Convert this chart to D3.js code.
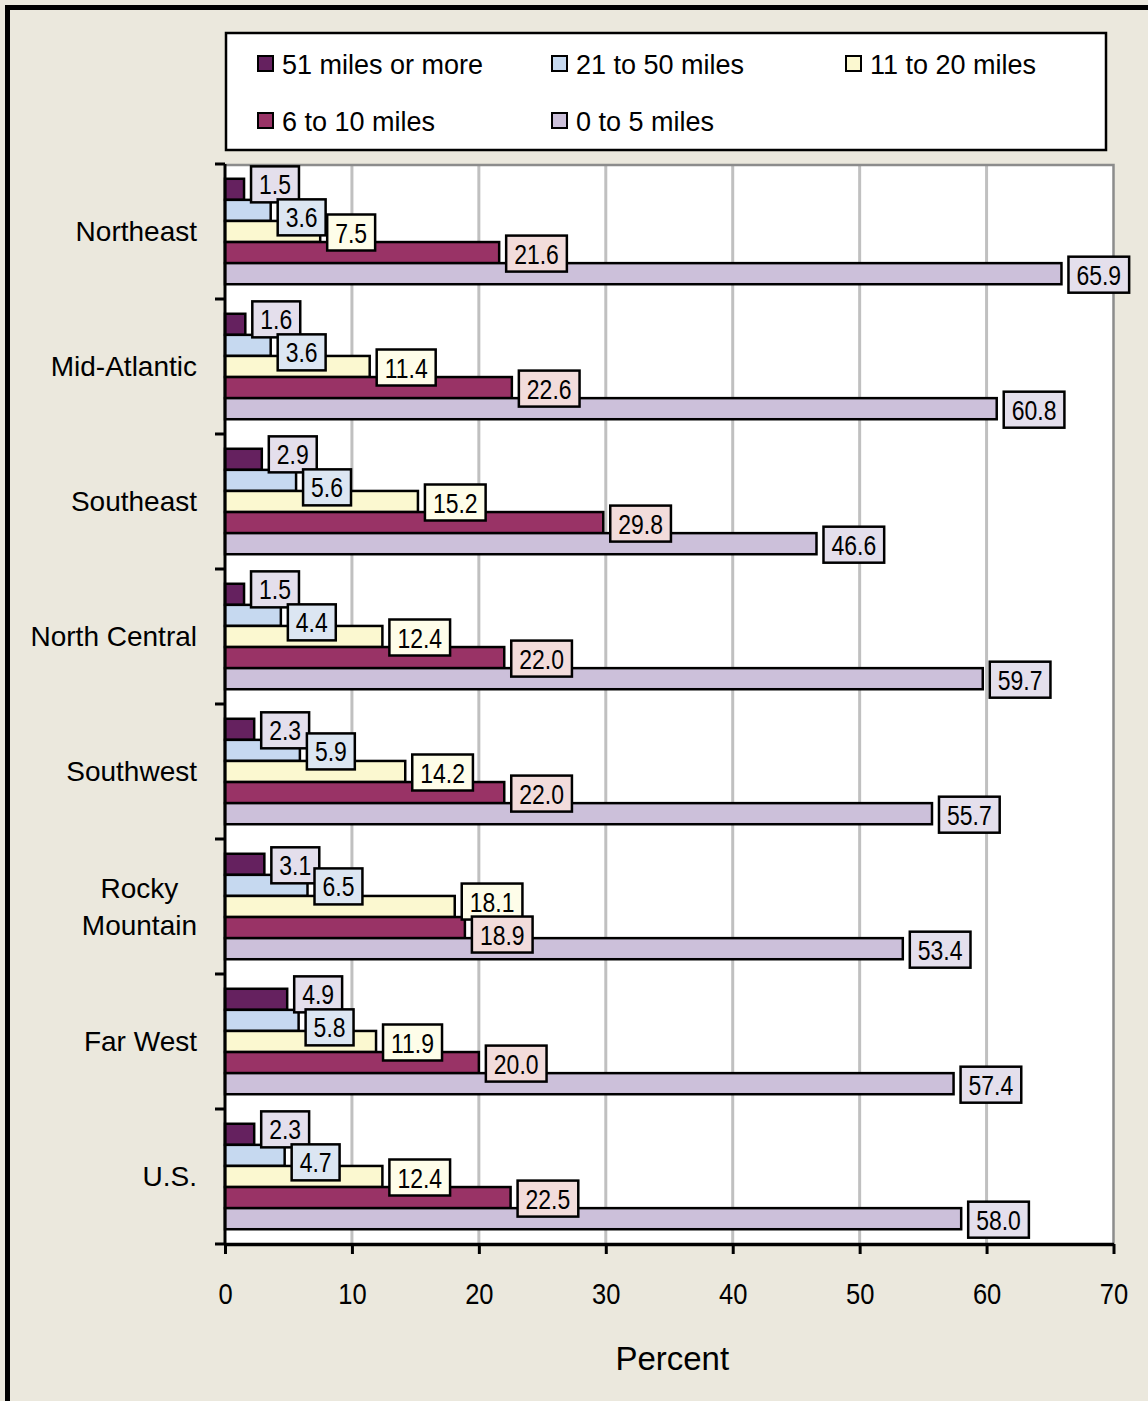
<!DOCTYPE html>
<html>
<head>
<meta charset="utf-8">
<script src="https://cdn.jsdelivr.net/npm/d3@7"></script>
<style>
  body { margin: 0; background: #ebe8dd; }
  svg { display: block; }
  .cat { font-family: "Liberation Sans", Arial, sans-serif; font-size: 28px; fill: #000; }
  .tick text { font-family: "Liberation Sans", Arial, sans-serif; font-size: 29px; fill: #000; }
  .lbl { font-family: "Liberation Sans", Arial, sans-serif; font-size: 28px; fill: #000; }
  .leg { font-family: "Liberation Sans", Arial, sans-serif; font-size: 27px; fill: #000; }
</style>
</head>
<body>
<svg id="chart" width="1148" height="1401"></svg>
<script>
// regions, top to bottom
let categories = ["Northeast", "Mid-Atlantic", "Southeast", "North Central", "Southwest", "Rocky Mountain", "Far West", "U.S."];

let seriesNames = ["51 miles or more", "21 to 50 miles", "11 to 20 miles", "6 to 10 miles", "0 to 5 miles"];

// percent of trips, one value per region
let miles51plus = [1.5, 1.6, 2.9, 1.5, 2.3, 3.1, 4.9, 2.3];
let miles21to50 = [3.6, 3.6, 5.6, 4.4, 5.9, 6.5, 5.8, 4.7];
let miles11to20 = [7.5, 11.4, 15.2, 12.4, 14.2, 18.1, 11.9, 12.4];
let miles6to10 = [21.6, 22.6, 29.8, 22.0, 22.0, 18.9, 20.0, 22.5];
let miles0to5 = [65.9, 60.8, 46.6, 59.7, 55.7, 53.4, 57.4, 58.0];

let xTicks = [0, 10, 20, 30, 40, 50, 60, 70];

let seriesValues = [miles51plus, miles21to50, miles11to20, miles6to10, miles0to5];
let barColors = ["#65215f", "#c6d9f0", "#fbf8d0", "#993366", "#ccc0da"];
let labelColors = ["#e4dfec", "#dce6f2", "#fefde9", "#f2dcdb", "#e4dfec"];

let narrow = 0.82; // squeeze for the condensed label face

let margin = {top: 164, right: 34, bottom: 157, left: 225},
    width = 1148 - margin.left - margin.right,
    height = 1401 - margin.top - margin.bottom;

let root = d3.select("#chart");

// outer frame (only left and top show in the crop)
root.append("path")
  .attr("d", "M7.5,1401 V7.5 H1148")
  .attr("fill", "none")
  .attr("stroke", "#000")
  .attr("stroke-width", 5);

let svg = root.append("g")
  .attr("transform", "translate(" + margin.left + "," + margin.top + ")");

let x = d3.scaleLinear()
  .domain([0, 70])
  .range([0, width - 0.5]);

let y = d3.scaleBand()
  .domain(categories)
  .range([0, height]);

let ySub = d3.scaleBand()
  .domain(seriesNames)
  .range([0, y.bandwidth()])
  .paddingOuter(0.7);

// plot area
svg.append("rect")
  .attr("width", x(70))
  .attr("height", height)
  .attr("fill", "#fff");

svg.selectAll(".grid")
  .data(xTicks.slice(1, -1))
  .enter().append("line")
    .attr("class", "grid")
    .attr("x1", d => x(d)).attr("x2", d => x(d))
    .attr("y1", 0).attr("y2", height)
    .attr("stroke", "#c0c0c0")
    .attr("stroke-width", 3);

svg.append("path")
  .attr("d", "M0,1 H" + x(70) + " V" + height)
  .attr("fill", "none")
  .attr("stroke", "#8c8c8c")
  .attr("stroke-width", 2.5);

// bars
let rows = [];
categories.forEach(function(c, i) {
  seriesNames.forEach(function(s, j) {
    rows.push({cat: c, series: s, idx: j, value: seriesValues[j][i]});
  });
});

svg.selectAll(".bar")
  .data(rows)
  .enter().append("rect")
    .attr("class", "bar")
    .attr("x", 0)
    .attr("y", d => y(d.cat) + ySub(d.series))
    .attr("width", d => x(d.value))
    .attr("height", ySub.bandwidth())
    .attr("fill", d => barColors[d.idx])
    .attr("stroke", "#000")
    .attr("stroke-width", 2.5);

// axes
let xAxis = svg.append("g")
  .attr("transform", "translate(0," + height + ")")
  .call(d3.axisBottom(x).tickValues(xTicks).tickSize(10).tickPadding(29).tickSizeOuter(0));
xAxis.select(".domain").attr("stroke-width", 3.5);
xAxis.selectAll(".tick line").attr("stroke-width", 3);
xAxis.selectAll(".tick text").attr("transform", "scale(0.88,1)");

let yEdges = categories.map(c => y(c)).concat([height]);
svg.append("line")
  .attr("x1", 0).attr("x2", 0)
  .attr("y1", 0).attr("y2", height)
  .attr("stroke", "#000").attr("stroke-width", 3);
svg.selectAll(".ytick")
  .data(yEdges)
  .enter().append("line")
    .attr("class", "ytick")
    .attr("x1", -10).attr("x2", 0)
    .attr("y1", d => d).attr("y2", d => d)
    .attr("stroke", "#000").attr("stroke-width", 3);

// category labels
let wrapped = {"Rocky Mountain": ["Rocky", "Mountain"]};
categories.forEach(function(c) {
  let cy = y(c) + y.bandwidth() / 2;
  let lines = wrapped[c] || [c];
  if (lines.length == 1) {
    svg.append("text").attr("class", "cat")
      .attr("x", -28).attr("y", cy).attr("dy", "0.35em")
      .attr("text-anchor", "end")
      .text(c);
  } else {
    let t = svg.append("text").attr("class", "cat").attr("text-anchor", "middle");
    lines.forEach(function(l, k) {
      t.append("tspan").attr("y", cy + (k - (lines.length - 1) / 2) * 37).attr("dy", "0.35em").text(l);
    });
    let w = d3.max(t.selectAll("tspan").nodes(), n => n.getComputedTextLength());
    t.selectAll("tspan").attr("x", -28 - w / 2);
  }
});

// data labels: measure first, then nudge neighbours apart where a box covers the next text
let measure = svg.append("text").attr("class", "lbl");
rows.forEach(function(d) {
  measure.text(d.value.toFixed(1));
  d.tw = measure.node().getComputedTextLength() * narrow;
  d.bx = x(d.value) + 7;
  d.cy = y(d.cat) + ySub(d.series) + ySub.bandwidth() / 2 + 1;
});
measure.remove();

function hits(a, b) {
  // a's box against b's text, horizontally
  return Math.min(a.bx + a.tw + 16, b.bx + 8 + b.tw) - Math.max(a.bx, b.bx + 8) > 0;
}

categories.forEach(function(c) {
  let grp = rows.filter(d => d.cat == c);
  for (let k = 0; k < grp.length - 1; k++) {
    let a = grp[k], b = grp[k + 1];
    let gap = b.cy - a.cy;
    if ((hits(a, b) || hits(b, a)) && gap < 33) {
      let push = (33 - gap) / 2;
      a.cy -= push;
      b.cy += push;
    }
  }
});

let lbl = svg.selectAll(".lblg")
  .data(rows)
  .enter().append("g")
    .attr("class", "lblg")
    .attr("transform", d => "translate(" + d.bx + "," + d.cy + ")");

lbl.append("rect")
  .attr("x", 0).attr("y", -18)
  .attr("width", d => d.tw + 16).attr("height", 36)
  .attr("fill", d => labelColors[d.idx])
  .attr("stroke", "#000").attr("stroke-width", 2.5);

lbl.append("text").attr("class", "lbl")
  .attr("transform", "translate(8,0) scale(" + narrow + ",1)")
  .attr("dy", "0.36em")
  .text(d => d.value.toFixed(1));

// x title
svg.append("text").attr("class", "cat")
  .attr("x", x(35) + 3).attr("y", 1358 - margin.top).attr("dy", "0.35em")
  .attr("text-anchor", "middle")
  .style("font-size", "33px")
  .text("Percent");

// legend
let legend = root.append("g");
legend.append("rect")
  .attr("x", 226).attr("y", 33).attr("width", 880).attr("height", 117)
  .attr("fill", "#fff").attr("stroke", "#000").attr("stroke-width", 2.5);

let legItems = legend.selectAll(".item")
  .data(seriesNames)
  .enter().append("g")
    .attr("class", "item")
    .attr("transform", (d, i) => "translate(" + (258 + (i % 3) * 294) + "," + (64 + Math.floor(i / 3) * 57) + ")");
legItems.append("rect")
  .attr("x", 0).attr("y", -8).attr("width", 15).attr("height", 15)
  .attr("fill", (d, i) => barColors[i])
  .attr("stroke", "#000").attr("stroke-width", 2);
legItems.append("text").attr("class", "leg")
  .attr("x", 24).attr("y", 0).attr("dy", "0.36em")
  .text(d => d);
</script>
</body>
</html>
